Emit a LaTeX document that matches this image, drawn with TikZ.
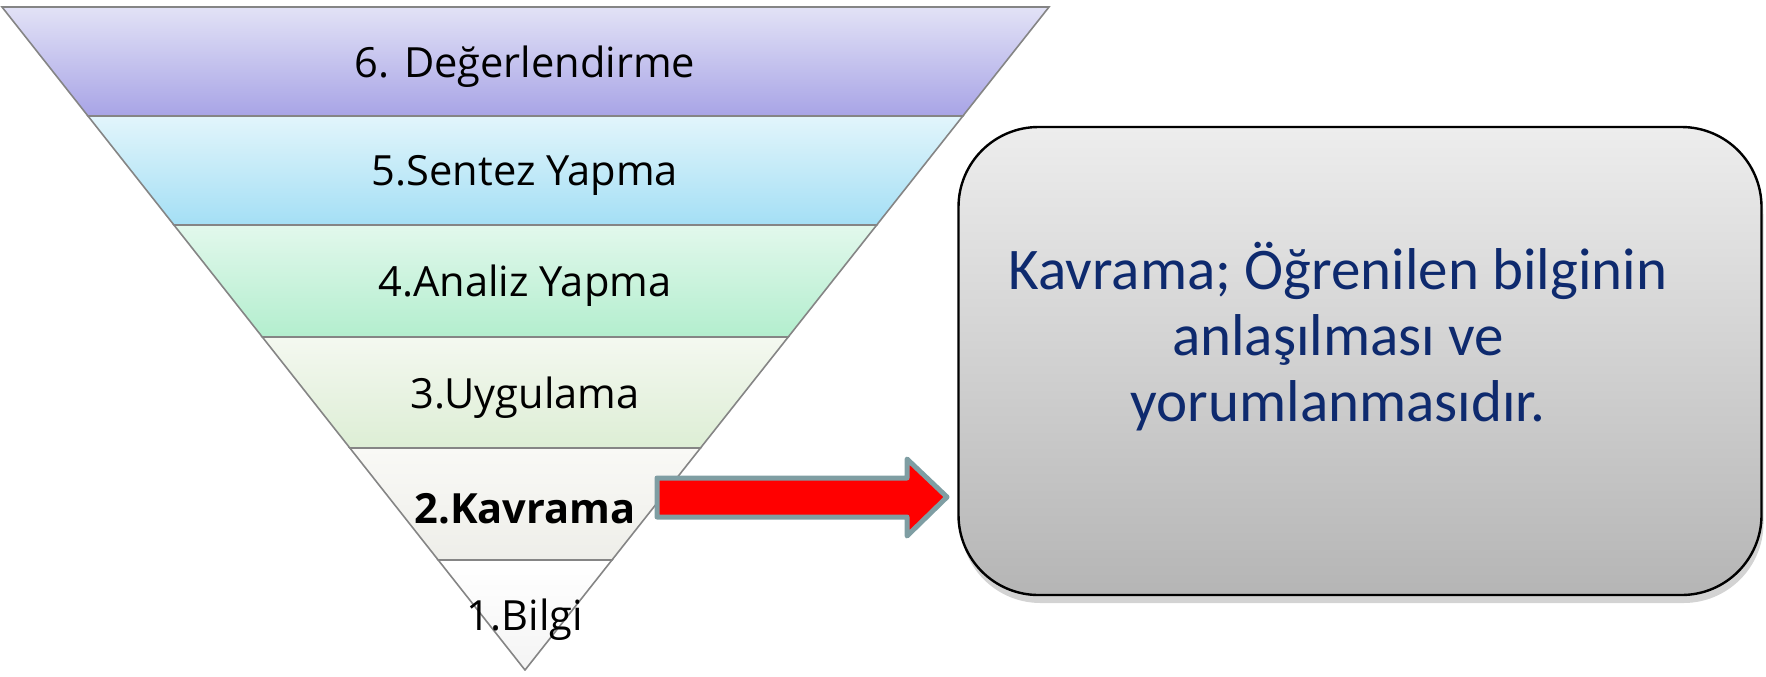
\documentclass[tikz,border=0pt]{standalone}
\usepackage{fontspec}
\setmainfont{Open Sans}
\newfontfamily\boxfont{Carlito}
\usetikzlibrary{calc,shadows}
\definecolor{bandline}{HTML}{858585}
\definecolor{sixtop}{HTML}{E2E2F6}
\definecolor{sixbot}{HTML}{A8A4E6}
\definecolor{fivetop}{HTML}{E2F5FB}
\definecolor{fivebot}{HTML}{A4DFF5}
\definecolor{fourtop}{HTML}{E2F8EC}
\definecolor{fourbot}{HTML}{B3EECE}
\definecolor{threetop}{HTML}{F4F8F0}
\definecolor{threebot}{HTML}{DDEED5}
\definecolor{twotop}{HTML}{F9F9F6}
\definecolor{twobot}{HTML}{EEEEE9}
\definecolor{onetop}{HTML}{FFFFFF}
\definecolor{onebot}{HTML}{F4F4F4}
\definecolor{boxtop}{HTML}{EDEDED}
\definecolor{boxbot}{HTML}{B5B5B5}
\definecolor{navytext}{HTML}{0E2A6E}
\definecolor{arrowline}{HTML}{7F9EA3}
\tikzset{
  band/.style={draw=bandline, line width=0.8pt},
  bandlabel/.style={font=\fontsize{20.8}{24}\selectfont, text=black, inner sep=0pt},
  infobox/.style={draw=black, line width=1.2pt, rounded corners=40pt,
    top color=boxtop, bottom color=boxbot, minimum width=401.5pt, minimum height=234pt,
    drop shadow={shadow xshift=1pt, shadow yshift=-4pt, opacity=.35}},
  infotext/.style={font=\boxfont\fontsize{29.5}{33}\selectfont, text=navytext, align=center, inner sep=0pt},
  blockarrow/.style={draw=arrowline, fill=red, line width=2.5pt, line join=round}
}
\begin{document}
\begin{tikzpicture}[x=0.5pt,y=-0.5pt]
  \useasboundingbox (0,0) rectangle (1766,676);
  % pyramid, one band at a time
  \foreach \t/\b/\ctop/\cbot/\txt/\nm in {7/116/sixtop/sixbot/{6. Değerlendirme}/lsix,
      116/225/fivetop/fivebot/{5.Sentez Yapma}/lfive,
      225/337/fourtop/fourbot/{4.Analiz Yapma}/lfour,
      337/448/threetop/threebot/{3.Uygulama}/lthree,
      448/560/twotop/twobot/{\bfseries 2.Kavrama}/ltwo,
      560/670/onetop/onebot/{1.Bilgi}/lone}{
    \pgfmathsetmacro\lt{2+(\t-7)*0.7888}
    \pgfmathsetmacro\lb{2+(\b-7)*0.7888}
    \pgfmathsetmacro\rt{1049-(\t-7)*0.7903}
    \pgfmathsetmacro\rb{1049-(\b-7)*0.7903}
    \draw[band, top color=\ctop, bottom color=\cbot] (\lt,\t) -- (\rt,\t) -- (\rb,\b) -- (\lb,\b) -- cycle;
    \node[bandlabel] (\nm) at (525,{(\t+\b)/2+5}) {\txt};
  }
  % explanation box
  \node[infobox] (kbox) at (1360,361) {};
  \node[infotext] (ktext) at (1338,337) {Kavrama; Öğrenilen bilginin\\anlaşılması ve\\yorumlanmasıdır.};
  % arrow from level 2 to the box
  \coordinate (atail) at (657,497);
  \coordinate (atip) at (947,497);
  \draw[blockarrow] (atail) ++(0,-19) -- ++(250,0) -- ++(0,-19) -- (atip)
    -- ++(-40,39) -- ++(0,-19) -- ++(-250,0) -- cycle;
\end{tikzpicture}
\end{document}
